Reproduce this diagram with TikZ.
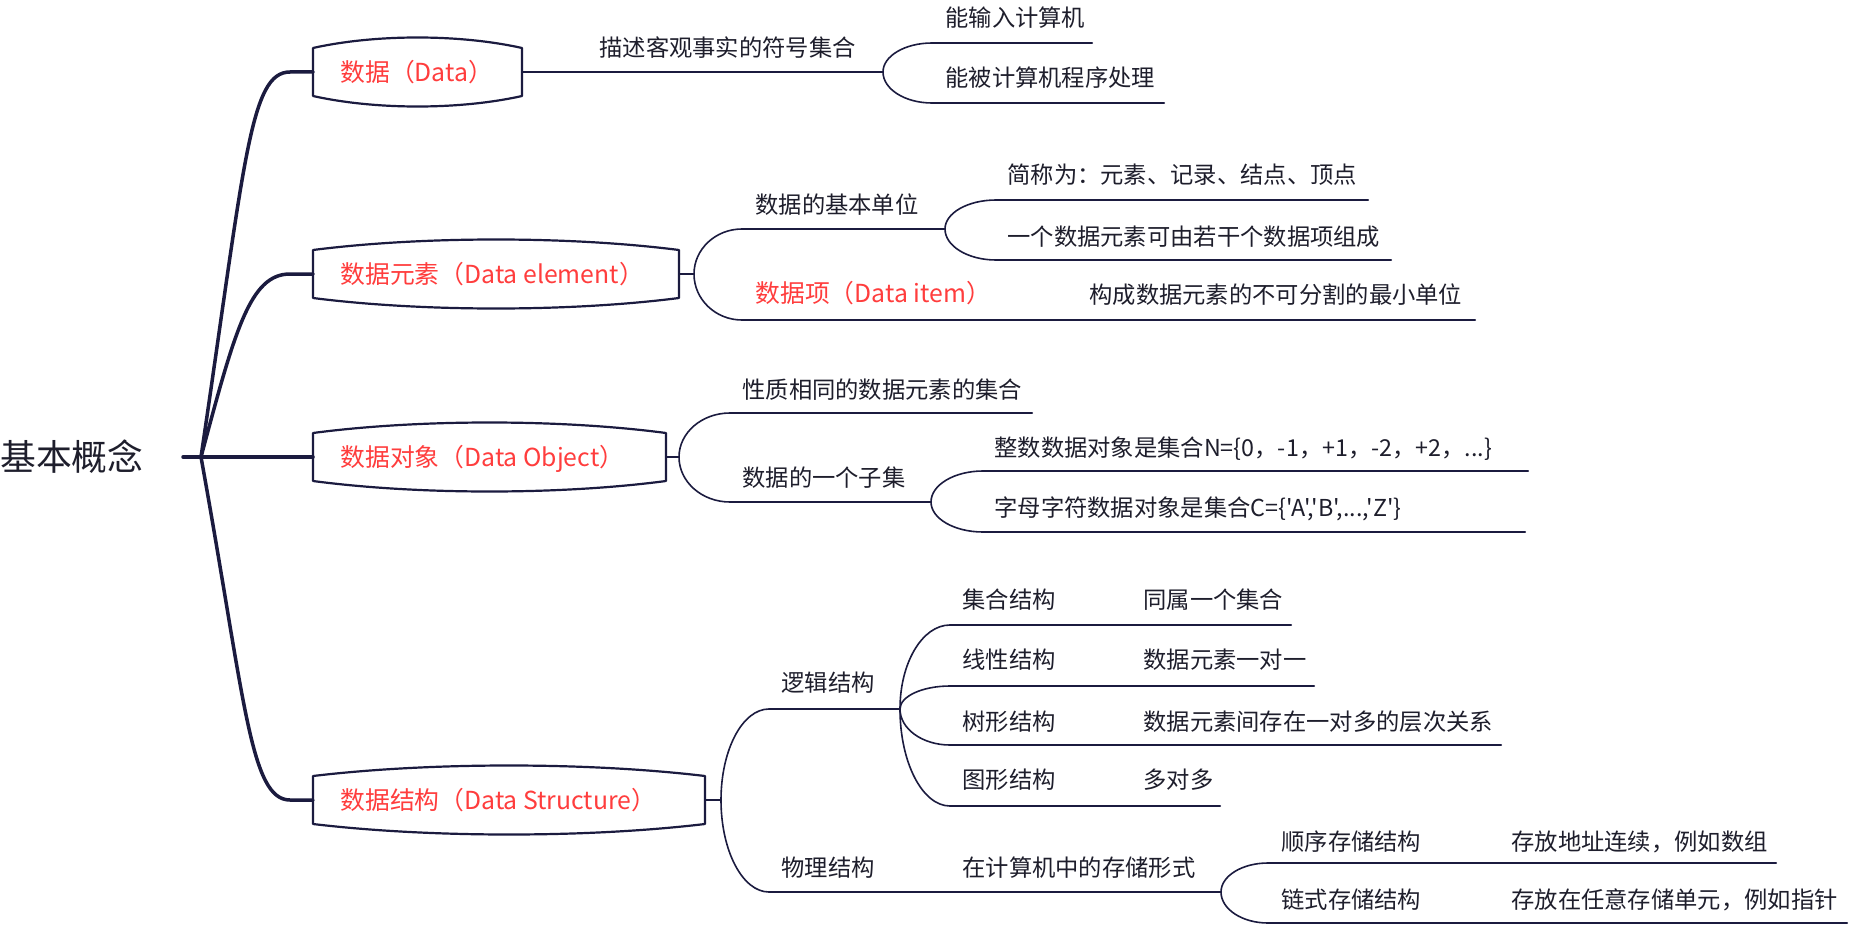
\documentclass[tikz,border=0pt]{standalone}
\usepackage{fontspec}
\newfontfamily\cjk{Noto Sans CJK SC}
\usetikzlibrary{calc}
\definecolor{ink}{HTML}{1B1B3F}
\definecolor{txtc}{HTML}{1E1E2C}
\definecolor{hl}{HTML}{FF3D3D}
\tikzset{
  base/.style={anchor=west, inner sep=0pt},
  lbl/.style={base, text height=10pt, text depth=1.17pt, font=\cjk\fontsize{11.65}{14}\selectfont, text=txtc},
  key/.style={base, text height=10.66pt, text depth=1.24pt, font=\cjk\fontsize{12.4}{15}\selectfont, text=hl},
  rootlbl/.style={base, text height=15.4pt, text depth=1.8pt, font=\cjk\fontsize{17.9}{21}\selectfont, text=txtc},
  trunk/.style={draw=ink, line width=1.75pt, line cap=round, line join=round},
  outline/.style={draw=ink, line width=1.1pt, line join=round},
  rule/.style={draw=ink, line width=1pt, line cap=round},
  twig/.style={draw=ink, line width=0.8pt},
}
% quarter-round fork from a branch point to the start of an underline
\newcommand\fork[2]{\draw[twig] (#1) .. controls ($(#1)!0.552!(#1|-#2)$) and ($(#2)!0.552!(#1|-#2)$) .. (#2);}
% barrel-shaped topic frame: left x, right x, centre y
\newcommand\lens[3]{%
  \draw[outline] (#1,#3-24) -- (#1,#3+24)
     .. controls ({#1+0.3*(#2-#1)},#3+38) and ({#2-0.3*(#2-#1)},#3+38) .. (#2,#3+24)
     -- (#2,#3-24)
     .. controls ({#2-0.3*(#2-#1)},#3-38) and ({#1+0.3*(#2-#1)},#3-38) .. cycle;}
\begin{document}
\begin{tikzpicture}[x=0.5pt,y=-0.5pt]
\fill[white] (0,0) rectangle (1857,931);
\useasboundingbox (0,0) rectangle (1857,931);

% root
\node[rootlbl] (root) at (0,457) {基本概念};
\coordinate (rootR) at (183,457);
\coordinate (hub) at (201,457);

% topic frames
\lens{313}{522}{72}
\node[key] (d1) at (340,72) {数据（Data）};
\coordinate (d1w) at (313,72); \coordinate (d1e) at (522,72);

\lens{313}{679}{274}
\node[key] (d2) at (340,274) {数据元素（Data element）};
\coordinate (d2w) at (313,274); \coordinate (d2e) at (679,274);

\lens{313}{666}{457}
\node[key] (d3) at (340,457) {数据对象（Data Object）};
\coordinate (d3w) at (313,457); \coordinate (d3e) at (666,457);

\lens{313}{705}{800}
\node[key] (d4) at (340,800) {数据结构（Data Structure）};
\coordinate (d4w) at (313,800); \coordinate (d4e) at (705,800);

% trunks
\draw[trunk] (rootR) -- (d3w);
\draw[trunk] (hub) .. controls (245,160) and (250,72) .. (290,72) -- (d1w);
\draw[trunk] (hub) .. controls (235,330) and (250,274) .. (290,274) -- (d2w);
\draw[trunk] (hub) .. controls (245,700) and (250,800) .. (290,800) -- (d4w);

% ---- 数据
\coordinate (f1) at (883,72);
\draw[rule] (d1e) -- (f1);
\node[lbl] (t11) at (599,48) {描述客观事实的符号集合};
\coordinate (a1) at (932,43);  \coordinate (a1e) at (1092,43);
\coordinate (a2) at (932,103); \coordinate (a2e) at (1164,103);
\fork{f1}{a1} \draw[rule] (a1) -- (a1e);
\fork{f1}{a2} \draw[rule] (a2) -- (a2e);
\node[lbl] (t12) at (945,18) {能输入计算机};
\node[lbl] (t13) at (945,78) {能被计算机程序处理};

% ---- 数据元素
\coordinate (f2) at (694,274);
\draw[twig] (d2e) -- (f2);
\coordinate (b1) at (742,229); \coordinate (f3) at (945,229);
\coordinate (b2) at (742,320); \coordinate (b2e) at (1475,320);
\fork{f2}{b1} \draw[rule] (b1) -- (f3);
\fork{f2}{b2} \draw[rule] (b2) -- (b2e);
\node[lbl] (t21) at (755,205) {数据的基本单位};
\node[key] (t22) at (755,293) {数据项（Data item）};
\node[lbl] (t23) at (1089,295) {构成数据元素的不可分割的最小单位};
\coordinate (c1) at (996,200); \coordinate (c1e) at (1368,200);
\coordinate (c2) at (996,260); \coordinate (c2e) at (1391,260);
\fork{f3}{c1} \draw[rule] (c1) -- (c1e);
\fork{f3}{c2} \draw[rule] (c2) -- (c2e);
\node[lbl] (t24) at (1007,175) {简称为：元素、记录、结点、顶点};
\node[lbl] (t25) at (1007,237) {一个数据元素可由若干个数据项组成};

% ---- 数据对象
\coordinate (f4) at (679,457);
\draw[twig] (d3e) -- (f4);
\coordinate (e1) at (730,413); \coordinate (e1e) at (1032,413);
\coordinate (e2) at (730,502); \coordinate (f5) at (931,502);
\fork{f4}{e1} \draw[rule] (e1) -- (e1e);
\fork{f4}{e2} \draw[rule] (e2) -- (f5);
\node[lbl] (t31) at (742,390) {性质相同的数据元素的集合};
\node[lbl] (t32) at (742,478) {数据的一个子集};
\coordinate (g1) at (983,471); \coordinate (g1e) at (1528,471);
\coordinate (g2) at (983,532); \coordinate (g2e) at (1525,532);
\fork{f5}{g1} \draw[rule] (g1) -- (g1e);
\fork{f5}{g2} \draw[rule] (g2) -- (g2e);
\node[lbl] (t33) at (994,448) {整数数据对象是集合N=\{0，-1，+1，-2，+2，...\}};
\node[lbl] (t34) at (994,508) {字母字符数据对象是集合C=\{'A','B',...,'Z'\}};

% ---- 数据结构
\coordinate (f6) at (721,800);
\draw[twig] (d4e) -- (f6);
\coordinate (h1) at (769,709); \coordinate (f7) at (900,709);
\coordinate (h2) at (769,892); \coordinate (f8) at (1221,892);
\fork{f6}{h1} \draw[rule] (h1) -- (f7);
\fork{f6}{h2} \draw[rule] (h2) -- (f8);
\node[lbl] (t41) at (781,683) {逻辑结构};
\node[lbl] (t42) at (781,868) {物理结构};
\node[lbl] (t43) at (962,868) {在计算机中的存储形式};

\coordinate (k1) at (950,625); \coordinate (k1e) at (1291,625);
\coordinate (k2) at (950,686); \coordinate (k2e) at (1314,686);
\coordinate (k3) at (950,745); \coordinate (k3e) at (1501,745);
\coordinate (k4) at (950,806); \coordinate (k4e) at (1220,806);
\fork{f7}{k1} \draw[rule] (k1) -- (k1e);
\fork{f7}{k2} \draw[rule] (k2) -- (k2e);
\fork{f7}{k3} \draw[rule] (k3) -- (k3e);
\fork{f7}{k4} \draw[rule] (k4) -- (k4e);
\node[lbl] (s1) at (962,600) {集合结构};
\node[lbl] (s1d) at (1143,600) {同属一个集合};
\node[lbl] (s2) at (962,660) {线性结构};
\node[lbl] (s2d) at (1143,660) {数据元素一对一};
\node[lbl] (s3) at (962,722) {树形结构};
\node[lbl] (s3d) at (1143,722) {数据元素间存在一对多的层次关系};
\node[lbl] (s4) at (962,780) {图形结构};
\node[lbl] (s4d) at (1143,780) {多对多};

\coordinate (m1) at (1268,863); \coordinate (m1e) at (1776,863);
\coordinate (m2) at (1268,923); \coordinate (m2e) at (1847,923);
\fork{f8}{m1} \draw[rule] (m1) -- (m1e);
\fork{f8}{m2} \draw[rule] (m2) -- (m2e);
\node[lbl] (p1) at (1281,842) {顺序存储结构};
\node[lbl] (p1d) at (1511,842) {存放地址连续，例如数组};
\node[lbl] (p2) at (1281,900) {链式存储结构};
\node[lbl] (p2d) at (1511,900) {存放在任意存储单元，例如指针};
\end{tikzpicture}
\end{document}
